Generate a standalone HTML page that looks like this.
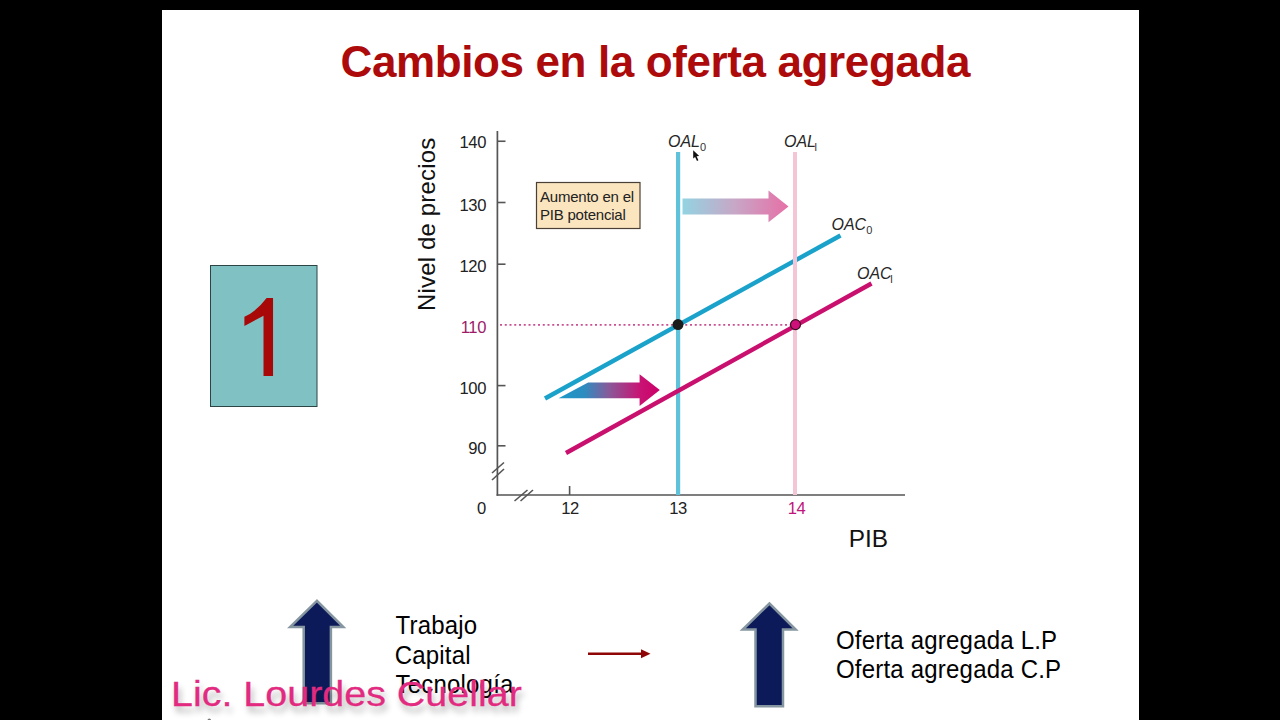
<!DOCTYPE html>
<html><head><meta charset="utf-8">
<style>
html,body{margin:0;padding:0;width:1280px;height:720px;overflow:hidden;background:#000;}
body{position:relative;font-family:"Liberation Sans",sans-serif;}
#slide{position:absolute;left:162px;top:10px;width:977px;height:710px;background:#fff;}
.t{position:absolute;white-space:nowrap;line-height:1;}
svg{position:absolute;left:0;top:0;}
.ax{font-size:16.6px;color:#222;width:50px;text-align:right;letter-spacing:-0.4px;}
.axx{font-size:16.6px;color:#222;width:50px;text-align:center;letter-spacing:-0.4px;}
.lab{font-size:16px;font-style:italic;color:#262626;}
.lab sub{font-size:11px;font-style:normal;vertical-align:-4px;color:#333;}
.box{font-size:15px;color:#222;line-height:17.8px;letter-spacing:-0.22px;}
.bt{font-size:24px;color:#000;letter-spacing:0.2px;transform:scaleY(1.055);transform-origin:0 20.3px;}
</style></head>
<body>
<div id="slide"></div>
<svg width="1280" height="720" viewBox="0 0 1280 720">
  <defs>
    <linearGradient id="g1" x1="682" y1="0" x2="789" y2="0" gradientUnits="userSpaceOnUse">
      <stop offset="0" stop-color="#92d4e2"/>
      <stop offset="0.5" stop-color="#c8a6c6"/>
      <stop offset="1" stop-color="#e66fa6"/>
    </linearGradient>
    <linearGradient id="g2" x1="559" y1="0" x2="660" y2="0" gradientUnits="userSpaceOnUse">
      <stop offset="0" stop-color="#1a9ac9"/>
      <stop offset="0.25" stop-color="#2d8cc0"/>
      <stop offset="0.5" stop-color="#8a5898"/>
      <stop offset="0.8" stop-color="#c81474"/>
      <stop offset="1" stop-color="#cc0068"/>
    </linearGradient>
  </defs>
  <!-- axes -->
  <line x1="497.4" y1="131" x2="497.4" y2="495.8" stroke="#555" stroke-width="1.7"/>
  <line x1="496.6" y1="495" x2="905" y2="495" stroke="#555" stroke-width="1.7"/>
  <g stroke="#555" stroke-width="1.6">
    <line x1="497" y1="141.25" x2="505.5" y2="141.25"/>
    <line x1="497" y1="202.5" x2="505.5" y2="202.5"/>
    <line x1="497" y1="264.2" x2="505.5" y2="264.2"/>
    <line x1="497" y1="385.6" x2="505.5" y2="385.6"/>
    <line x1="497" y1="445.8" x2="505.5" y2="445.8"/>
    <line x1="569.6" y1="486" x2="569.6" y2="495"/>
    <line x1="492" y1="473" x2="504" y2="462.5"/>
    <line x1="492" y1="480" x2="504" y2="469"/>
    <line x1="514.5" y1="501" x2="527.5" y2="490"/>
    <line x1="520.5" y1="501" x2="533" y2="490"/>
  </g>
  <line x1="500" y1="324.9" x2="792" y2="324.9" stroke="#c94f90" stroke-width="1.7" stroke-dasharray="2 2.75"/>
  <rect x="676" y="152" width="4.2" height="343" fill="#5ec3da"/>
  <line x1="545" y1="398.5" x2="840.5" y2="235.5" stroke="#1ba2ca" stroke-width="4.4"/>
  <rect x="793" y="152" width="4" height="343" fill="#f3c5d7"/>
  <line x1="566" y1="453" x2="871.5" y2="283.5" stroke="#c9106f" stroke-width="4.4"/>
  <circle cx="678" cy="324.6" r="5.5" fill="#1c1c1c"/>
  <circle cx="795.5" cy="324.6" r="5" fill="#d0107a" stroke="#3a1020" stroke-width="1.2"/>
  <polygon points="682.5,198.5 768.5,198.5 768.5,190.5 788.5,206.5 768.5,222.2 768.5,214.5 682.5,214.5" fill="url(#g1)"/>
  <polygon points="558.6,398.3 588.1,382.4 639.6,382.4 639.6,374.2 659.8,390.1 639.6,406 639.6,398.3" fill="url(#g2)"/>
  <rect x="536.5" y="182.5" width="103.5" height="46" fill="#fae5bf" stroke="#4a4035" stroke-width="1.2"/>
  <rect x="210.5" y="265.5" width="106.5" height="141" fill="#80c2c4" stroke="#2c4444" stroke-width="1"/>
  <path d="M273.05,298 L266.6,298 Q256,312 244.4,316.7 L244.4,326.1 Q254.85,320.3 263.5,315.7 L263.5,375.9 L273.05,375.9 Z" fill="#a80808"/>
  <line x1="588" y1="653.8" x2="643" y2="653.8" stroke="#8f0606" stroke-width="2.6"/>
  <polygon points="641,649.3 650.5,653.8 641,658.3" fill="#8f0606"/>
  <polygon points="316.9,600.8 290.1,627.1 303.7,627.1 303.7,703.2 330.9,703.2 330.9,627.1 343.3,627.1" fill="#0c1a5a" stroke="#8696a0" stroke-width="2.5" stroke-linejoin="miter"/>
  <polygon points="769.5,603.5 742.7,629.5 755.5,629.5 755.5,706.2 783,706.2 783,629.5 795.7,629.5" fill="#0c1a5a" stroke="#8696a0" stroke-width="2.5" stroke-linejoin="miter"/>
  <polygon points="693.2,150.2 693.2,158.6 695.1,156.9 697,161 698.4,160.3 696.6,156.3 699.2,156.1" fill="#111"/>
  <circle cx="209.3" cy="720.3" r="1.8" fill="#777"/>
</svg>

<div class="t" style="left:340.5px;top:39.6px;font-size:44px;font-weight:bold;color:#ad0b0b;letter-spacing:-0.38px;">Cambios en la oferta agregada</div>
<div class="t" style="left:415.2px;top:311px;font-size:24px;color:#111;letter-spacing:0.16px;transform:rotate(-90deg);transform-origin:0 0;">Nivel de precios</div>
<div class="t ax" style="left:436px;top:135px;">140</div>
<div class="t ax" style="left:436px;top:197.8px;">130</div>
<div class="t ax" style="left:436px;top:259px;">120</div>
<div class="t ax" style="left:436px;top:319.8px;color:#9c1c6a;">110</div>
<div class="t ax" style="left:436px;top:381px;">100</div>
<div class="t ax" style="left:436px;top:441px;">90</div>
<div class="t axx" style="left:456.5px;top:501px;">0</div>
<div class="t axx" style="left:545px;top:500.6px;">12</div>
<div class="t axx" style="left:653px;top:500.6px;">13</div>
<div class="t axx" style="left:771.5px;top:500.6px;color:#c0157a;">14</div>
<div class="t" style="left:848.8px;top:527px;font-size:24.4px;color:#111;">PIB</div>
<div class="t lab" style="left:668px;top:133.7px;">OAL<sub>0</sub></div>
<div class="t lab" style="left:784px;top:133.7px;">OAL<sub style="margin-left:-1.5px">l</sub></div>
<div class="t lab" style="left:831.5px;top:217px;">OAC<sub>0</sub></div>
<div class="t lab" style="left:857px;top:266px;">OAC<sub style="margin-left:-1.5px">l</sub></div>
<div class="t box" style="left:540px;top:188px;">Aumento en el<br>PIB potencial</div>
<div class="t bt" style="left:395.5px;top:613.7px;">Trabajo</div>
<div class="t bt" style="left:394.7px;top:643.8px;">Capital</div>
<div class="t bt" style="left:395.5px;top:673px;">Tecnología</div>
<div class="t bt" style="left:836px;top:628.8px;">Oferta agregada L.P</div>
<div class="t bt" style="left:836px;top:658.4px;">Oferta agregada C.P</div>
<div class="t" style="left:170.6px;top:676.8px;font-size:34px;color:#e22b80;-webkit-text-stroke:0.25px #e22b80;text-shadow:2px 6px 6px rgba(0,0,0,0.3);transform:scale(1.16,1.04);transform-origin:0 28.8px;">Lic. Lourdes Cuellar</div>
</body></html>
